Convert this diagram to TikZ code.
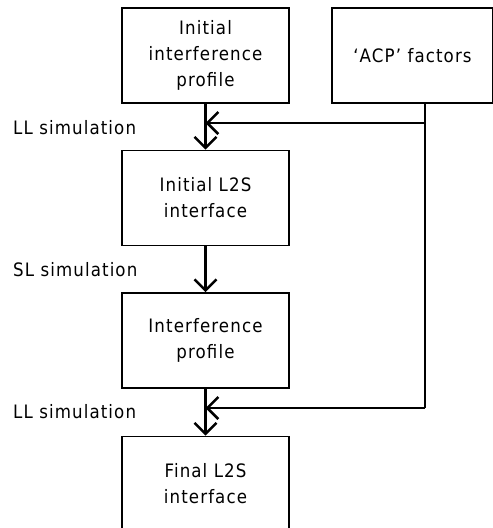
\documentclass[tikz,border=0pt]{standalone}
\usepackage{fontspec}
\setmainfont[LetterSpace=6,FakeStretch=0.9]{DejaVu Sans}
\usetikzlibrary{arrows.meta}
\begin{document}
\begin{tikzpicture}[x=1pt,y=-1pt,
  box/.style={draw, line width=1.6pt, minimum width=167pt, minimum height=95pt, align=center, font=\fontsize{18.5}{26}\selectfont, inner sep=0pt},
  lab/.style={anchor=base west, font=\fontsize{18.5}{22}\selectfont, inner sep=0pt},
  conn/.style={line width=2.8pt},
  tip/.style={-{Straight Barb[length=11pt,width=22pt,line width=2.6pt]}}]
\useasboundingbox (0,0) rectangle (493,528);
\clip (0,0) rectangle (493,528);
\node[box] (b1) at (205.5,55.5) {Initial\\interference\\profile};
\node[box, minimum width=161pt, text depth=0pt] (acp) at (412.5,55.5) {‘ACP’ factors};
\node[box] (b2) at (205.5,198) {Initial L2S\\interface};
\node[box] (b3) at (205.5,340.5) {Interference\\profile};
\node[box] (b4) at (205.5,484) {Final L2S\\interface};
\coordinate (j1) at (205.5,123);
\coordinate (j2) at (205.5,408);
\coordinate (r1) at (425,123);
\coordinate (r2) at (425,408);
\draw[conn] (b1.south) -- (j1);
\draw[conn,tip] (j1) -- (b2.north);
\draw[conn,tip] (b2.south) -- (b3.north);
\draw[conn] (b3.south) -- (j2);
\draw[conn,tip] (j2) -- (b4.north);
\draw[conn] (acp.south -| r1) -- (r2);
\draw[conn,tip] (r1) -- (j1);
\draw[conn,tip] (r2) -- (j2);
\node[lab] (l1) at (13,134.3) {LL simulation};
\node[lab] (l2) at (13,276.3) {SL simulation};
\node[lab] (l3) at (13,418.3) {LL simulation};
\end{tikzpicture}
\end{document}
